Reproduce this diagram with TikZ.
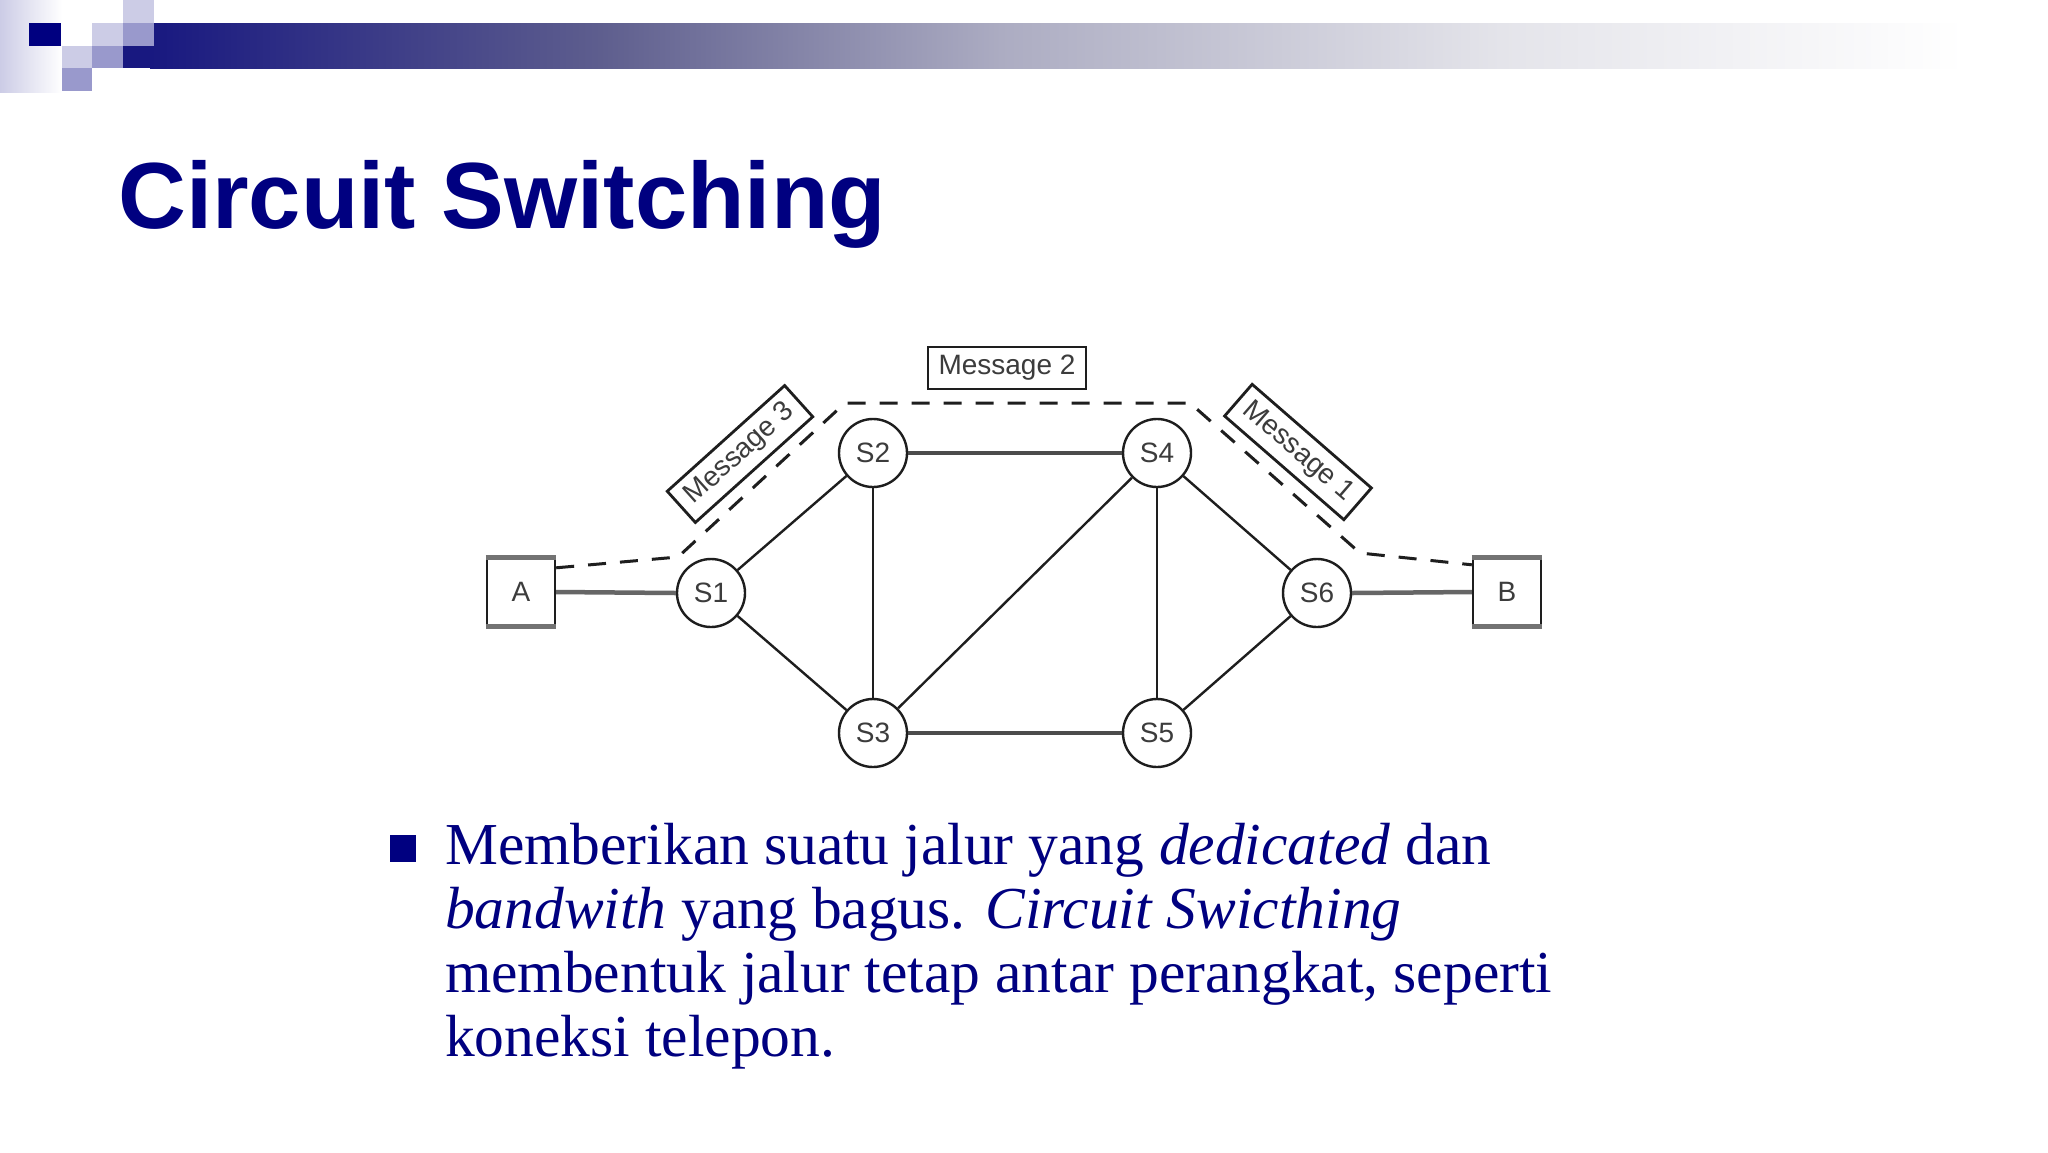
\documentclass[tikz,border=0pt]{standalone}
\usepackage{fontspec}
\setmainfont{Liberation Serif}
\setsansfont{Liberation Sans}
\definecolor{navy}{RGB}{0,0,128}
\definecolor{lav}{RGB}{204,204,230}
\definecolor{lavmid}{RGB}{153,153,204}
\definecolor{barA}{RGB}{24,24,128}
\definecolor{barB}{RGB}{94,94,142}
\definecolor{barC}{RGB}{172,172,194}
\definecolor{barD}{RGB}{228,228,234}
\definecolor{ink}{RGB}{30,30,30}
\definecolor{labelgray}{RGB}{60,60,60}
\begin{document}
\begin{tikzpicture}[x=1pt,y=-1pt,
  sw/.style={circle,draw=ink,line width=2.4pt,minimum size=68pt,inner sep=0pt,
    font=\sffamily\fontsize{28}{28}\selectfont,text=labelgray},
  endbox/.style={rectangle,draw=ink,line width=2.4pt,minimum width=68pt,minimum height=66pt,
    inner sep=0pt,font=\sffamily\fontsize{28}{28}\selectfont,text=labelgray},
  msg/.style={rectangle,draw=ink,line width=2.8pt,minimum width=158pt,minimum height=42pt,
    inner sep=0pt,font=\sffamily\fontsize{28}{28}\selectfont,text=labelgray},
  link/.style={line width=2.4pt,draw=ink},
  hlink/.style={line width=3.6pt,draw=black!70},
  accesslink/.style={line width=4.5pt,draw=black!60},
  boxedge/.style={line width=5pt,draw=black!55},
  route/.style={dash pattern=on 18pt off 14pt,line width=3pt,draw=ink},
  bodytext/.style={anchor=base west,inner sep=0pt,text=navy,font=\fontsize{59.5}{64}\selectfont}
]
\useasboundingbox (0,0) rectangle (2048,1152);
\fill[white] (0,0) rectangle (2048,1152);

% top-left decoration
\shade[left color=lav,right color=white] (0,0) rectangle (62,92);
\fill[barA] (123,23) rectangle (151,68);
\shade[left color=barA,right color=barB] (150,23) rectangle (601,68);
\shade[left color=barB,right color=barC] (600,23) rectangle (1001,68);
\shade[left color=barC,right color=barD] (1000,23) rectangle (1501,68);
\shade[left color=barD,right color=white] (1500,23) rectangle (1965,68);
\fill[navy] (29,23) rectangle (61,46);
\fill[lav] (62,46) rectangle (92,68);
\fill[lav] (92,23) rectangle (123,46);
\fill[lav] (123,0) rectangle (154,23);
\fill[lavmid] (62,68) rectangle (92,91);
\fill[lavmid] (92,46) rectangle (123,68);
\fill[lavmid] (123,23) rectangle (154,46);

% title
\node[anchor=base west,inner sep=0pt,text=navy,font=\sffamily\bfseries\fontsize{94}{94}\selectfont] (title) at (118,228) {Circuit Switching};

% network
\node[endbox] (A) at (521,592) {A};
\node[sw] (S1) at (711,593) {S1};
\node[sw] (S2) at (873,453) {S2};
\node[sw] (S3) at (873,733) {S3};
\node[sw] (S4) at (1157,453) {S4};
\node[sw] (S5) at (1157,733) {S5};
\node[sw] (S6) at (1317,593) {S6};
\node[endbox] (B) at (1507,592) {B};
\node[msg] (M2) at (1007,368) {Message 2};
\node[msg,rotate=42] (M3) at (740,454) {Message 3};
\node[msg,rotate=-41] (M1) at (1298,452) {Message 1};

\draw[boxedge] (A.north west) -- (A.north east);
\draw[boxedge] (A.south west) -- (A.south east);
\draw[boxedge] (B.north west) -- (B.north east);
\draw[boxedge] (B.south west) -- (B.south east);

\draw[accesslink] (A.east) -- (S1.west);
\draw[accesslink] (S6.east) -- (B.west);
\draw[link] (S1) -- (S2);
\draw[link] (S1) -- (S3);
\draw[link] (S2) -- (S3);
\draw[hlink] (S2) -- (S4);
\draw[link] (S3) -- (S4);
\draw[hlink] (S3) -- (S5);
\draw[link] (S4) -- (S5);
\draw[link] (S4) -- (S6);
\draw[link] (S5) -- (S6);

\coordinate (r1) at (678,557);
\coordinate (r2) at (845,403);
\coordinate (r3) at (1190,403);
\coordinate (r4) at (1360,553);
\draw[route] ([yshift=-10pt]A.north east) -- (r1) -- (r2) -- (r3) -- (r4) -- ([yshift=-7pt]B.north west);

% bullet text
\fill[navy] (390,835) rectangle (416,862);
\node[bodytext] (L1) at (445,864) {Memberikan suatu jalur yang \textit{dedicated} dan};
\node[bodytext] (L2) at (445,928) {\textit{bandwith} yang bagus. \textit{Circuit Swicthing}};
\node[bodytext] (L3) at (445,992) {membentuk jalur tetap antar perangkat, seperti};
\node[bodytext] (L4) at (445,1056) {koneksi telepon.};
\end{tikzpicture}
\end{document}
